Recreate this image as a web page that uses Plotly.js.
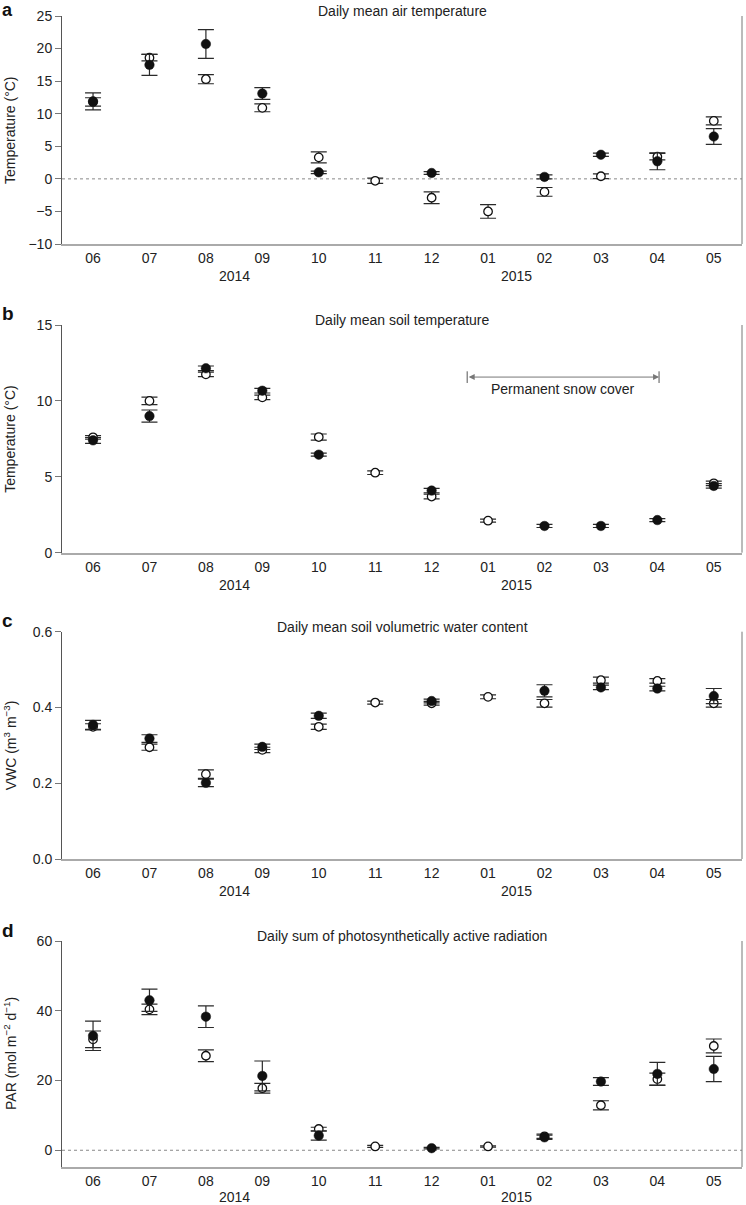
<!DOCTYPE html>
<html>
<head>
<meta charset="utf-8">
<script src="https://cdn.plot.ly/plotly-3.0.1.min.js"></script>
<style>html,body{margin:0;padding:0;background:#fff;}#chart{width:746px;height:1205px;}</style>
</head>
<body>
<div id="chart"></div>
<script>
// ---- data ----
const months = ['06','07','08','09','10','11','12','01','02','03','04','05'];
const years = ['2014','2015'];

const airFilled    = [11.9, 17.5, 20.7, 13.1, 1.0, null, 0.9, null, 0.3, 3.7, 2.7, 6.5];
const airFilledErr = [1.3, 1.6, 2.2, 0.9, 0.2, null, 0.2, null, 0.3, 0.25, 1.3, 1.2];
const airOpen      = [11.8, 18.6, 15.3, 10.9, 3.3, -0.3, -2.9, -5.0, -2.0, 0.4, 3.4, 8.9];
const airOpenErr   = [0.65, 0.5, 0.7, 0.6, 0.85, 0.4, 0.9, 1.05, 0.67, 0.35, 0.5, 0.6];

const soilFilled    = [7.4, 9.0, 12.15, 10.67, 6.46, null, 4.09, null, 1.76, 1.76, 2.15, 4.4];
const soilFilledErr = [0.2, 0.4, 0.15, 0.15, 0.1, null, 0.15, null, 0.1, 0.1, 0.1, 0.15];
const soilOpen      = [7.6, 10.0, 11.75, 10.23, 7.62, 5.27, 3.7, 2.11, null, null, null, 4.57];
const soilOpenErr   = [0.12, 0.25, 0.15, 0.15, 0.2, 0.12, 0.15, 0.1, null, null, null, 0.15];

const vwcFilled    = [0.354, 0.318, 0.201, 0.296, 0.378, null, 0.417, null, 0.444, 0.453, 0.45, 0.43];
const vwcFilledErr = [0.012, 0.01, 0.01, 0.007, 0.007, null, 0.005, null, 0.016, 0.006, 0.006, 0.02];
const vwcOpen      = [0.349, 0.295, 0.224, 0.288, 0.349, 0.413, 0.411, 0.428, 0.411, 0.472, 0.47, 0.411];
const vwcOpenErr   = [0.008, 0.008, 0.011, 0.007, 0.007, 0.004, 0.005, 0.005, 0.01, 0.008, 0.006, 0.01];

const parFilled    = [32.8, 43.0, 38.3, 21.3, 4.2, null, 0.6, null, 3.7, 19.7, 21.9, 23.3];
const parFilledErr = [4.2, 3.2, 3.1, 4.3, 1.3, null, 0.2, null, 0.6, 1.1, 3.3, 3.6];
const parOpen      = [31.8, 40.4, 27.1, 17.8, 6.1, 1.1, null, 1.1, 4.0, 12.9, 20.4, 29.9];
const parOpenErr   = [2.4, 1.5, 1.7, 1.4, 0.5, 0.3, null, 0.2, 0.6, 1.3, 1.7, 2.0];

const panelTitles = ['Daily mean air temperature','Daily mean soil temperature',
  'Daily mean soil volumetric water content','Daily sum of photosynthetically active radiation'];
const yTitles = ['Temperature (°C)','Temperature (°C)','VWC (m<sup>3</sup> m<sup>−3</sup>)',
  'PAR (mol m<sup>−2</sup> d<sup>−1</sup>)'];
const panelLetters = ['a','b','c','d'];
const snowLabel = 'Permanent snow cover';

// ---- layout helpers ----
const W = 746, H = 1205;
const FONT = 'Liberation Sans, Arial, Helvetica, sans-serif';
const TXT = '#222';
const xDom = [62/W, 742/W];
const panels = [
  {top:16, bottom:244, range:[-10,25], dtick:5, fmt:'', zero:true, sets:[airOpen,airOpenErr,airFilled,airFilledErr]},
  {top:325, bottom:552.7, range:[0,15], dtick:5, fmt:'', zero:false, sets:[soilOpen,soilOpenErr,soilFilled,soilFilledErr]},
  {top:631.7, bottom:859, range:[0,0.6], dtick:0.2, fmt:'.1f', zero:false, sets:[vwcOpen,vwcOpenErr,vwcFilled,vwcFilledErr]},
  {top:941, bottom:1167, range:[-4.8,60], dtick:20, fmt:'', zero:true, sets:[parOpen,parOpenErr,parFilled,parFilledErr]}
];

const traces = [];
const layout = {
  width: W, height: H, margin:{l:0,r:0,t:0,b:0},
  paper_bgcolor:'#fff', plot_bgcolor:'rgba(0,0,0,0)',
  showlegend:false, font:{family:FONT, size:14, color:TXT},
  annotations:[], shapes:[]
};

panels.forEach((p, i) => {
  const n = i === 0 ? '' : String(i+1);
  const xa = 'x' + n, ya = 'y' + n;
  const [oV, oE, fV, fE] = p.sets;
  traces.push({
    type:'scatter', mode:'markers', x: months, y: oV, xaxis: xa, yaxis: ya,
    marker:{symbol:'circle', size:8.5, color:'#fff', line:{color:'#111', width:1.3}},
    error_y:{type:'data', array:oE, visible:true, color:'#2a2a2a', thickness:1.2, width:8},
    cliponaxis:false, hoverinfo:'skip'
  });
  traces.push({
    type:'scatter', mode:'markers', x: months, y: fV, xaxis: xa, yaxis: ya,
    marker:{symbol:'circle', size:9.5, color:'#111', line:{color:'#111', width:0.5}},
    error_y:{type:'data', array:fE, visible:true, color:'#2a2a2a', thickness:1.2, width:8},
    cliponaxis:false, hoverinfo:'skip'
  });
  layout['xaxis' + n] = {
    domain: xDom, anchor: ya, type:'category', categoryarray: months,
    range:[-0.55, 11.5], showgrid:false, zeroline:false, showline:true,
    linecolor:'#aaa', linewidth:2, ticks:'', tickfont:{size:14, color:TXT, family:FONT},
    fixedrange:true
  };
  layout['yaxis' + n] = {
    domain:[1 - p.bottom/H, 1 - p.top/H], anchor: xa, range: p.range,
    dtick: p.dtick, tick0: 0, tickformat: p.fmt, showgrid:false, zeroline:false,
    showline:true, linecolor:'#555', linewidth:1, ticks:'outside', ticklen:6,
    tickcolor:'#777', tickwidth:1, tickfont:{size:14, color:TXT, family:FONT},
    fixedrange:true
  };
  // right border
  layout.shapes.push({type:'line', xref: xa + ' domain', yref: ya + ' domain',
    x0:1, x1:1, y0:0, y1:1, line:{color:'#777', width:1}});
  if (p.zero) {
    layout.shapes.push({type:'line', xref: xa + ' domain', yref: ya,
      x0:0, x1:1, y0:0, y1:0, line:{color:'#888', width:1, dash:'dot'}, layer:'below'});
  }
  // title
  layout.annotations.push({text: panelTitles[i], xref: xa + ' domain', yref: ya + ' domain',
    x:0.5, y:1, xanchor:'center', yanchor:'middle', yshift:5, showarrow:false,
    font:{size:14, color:TXT, family:FONT}});
  // panel letter
  if (i === 0) {
    layout.annotations.push({text:'<b>' + panelLetters[i] + '</b>', xref:'paper', yref:'paper',
      x:0, y:1, xanchor:'left', yanchor:'top', yshift:2, showarrow:false,
      font:{size:18, color:'#111', family:FONT}});
  } else {
    layout.annotations.push({text:'<b>' + panelLetters[i] + '</b>', xref:'paper', yref:'paper',
      x:0, y:1 - (p.top - 11)/H, xanchor:'left', yanchor:'middle', showarrow:false,
      font:{size:19, color:'#111', family:FONT}});
  }
  // y title
  layout.annotations.push({text: yTitles[i], xref:'paper', yref: ya + ' domain',
    x:10/W, y:0.5, xanchor:'center', yanchor:'middle', textangle:-90, showarrow:false,
    font:{size:14, color:TXT, family:FONT}});
  // year labels
  [2.5, 7.5].forEach((xv, k) => {
    layout.annotations.push({text: years[k], xref: xa, yref: ya + ' domain',
      x: xv, y:0, xanchor:'center', yanchor:'middle', yshift: i === 3 ? -30 : -32, showarrow:false,
      font:{size:14, color:TXT, family:FONT}});
  });
});

// snow cover marker in panel b
layout.annotations.push({text:'', xref:'x2', yref:'y2', axref:'x2', ayref:'y2',
  x:10.03, y:11.57, ax:6.63, ay:11.57, showarrow:true, arrowside:'end+start',
  arrowhead:2, arrowsize:1.2, arrowwidth:1, arrowcolor:'#777', standoff:0, startstandoff:0});
[6.63, 10.03].forEach(xv => {
  layout.shapes.push({type:'line', xref:'x2', yref:'y2', x0:xv, x1:xv, y0:11.18, y1:11.95,
    line:{color:'#555', width:1}});
});
layout.annotations.push({text: snowLabel, xref:'x2', yref:'y2', x:8.33, y:10.78,
  xanchor:'center', yanchor:'middle', showarrow:false, font:{size:14, color:TXT, family:FONT}});

Plotly.newPlot('chart', traces, layout, {staticPlot:true, displayModeBar:false});
</script>
</body>
</html>
